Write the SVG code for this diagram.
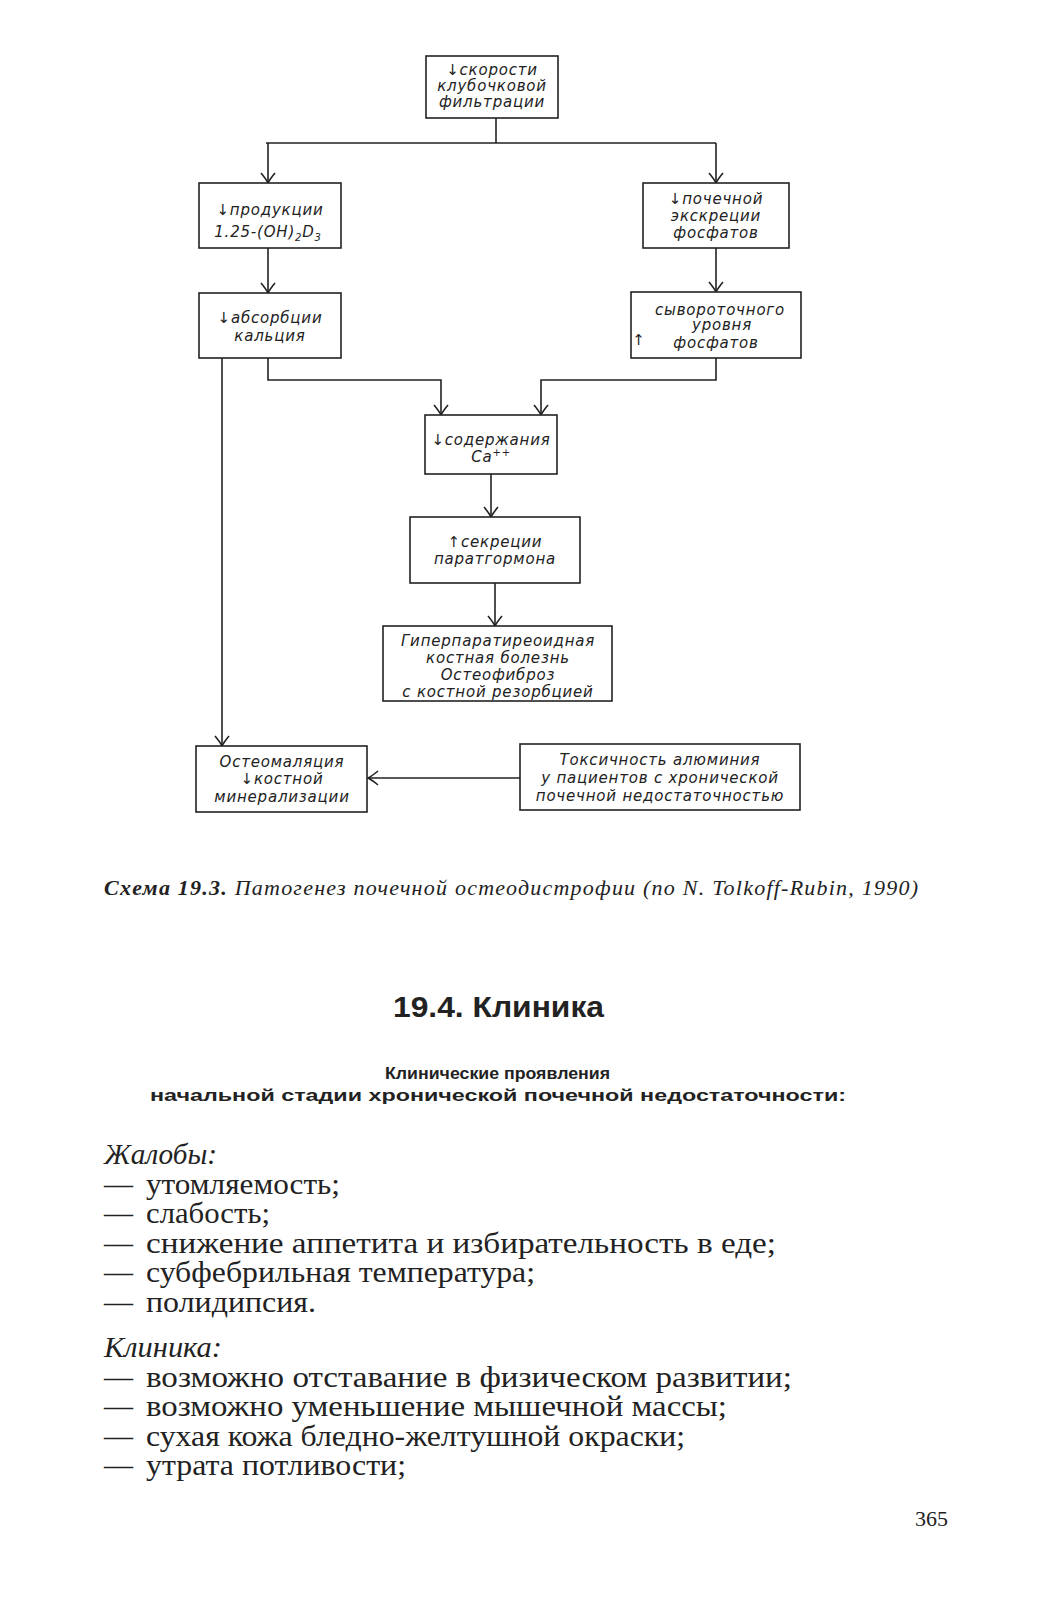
<svg xmlns="http://www.w3.org/2000/svg" width="1044" height="1600" viewBox="0 0 1044 1600">
<defs>
<marker id="ah" markerUnits="userSpaceOnUse" markerWidth="20" markerHeight="20" viewBox="-12 -10 14 20" refX="0" refY="0" orient="auto">
<path d="M-10,-7 Q-4,-2 0,0 Q-4,2 -10,7" fill="none" stroke="#222" stroke-width="1.6"/>
</marker>
<style>
.box{fill:#fff;stroke:#222;stroke-width:1.6}
.ln{fill:none;stroke:#222;stroke-width:1.6}
.t{font-family:"DejaVu Sans","Liberation Sans",sans-serif;font-style:italic;font-size:15px;letter-spacing:0.8px;fill:#222;text-anchor:middle}
.body{font-family:"Liberation Serif","Times New Roman",serif;font-size:29px;fill:#222}
.it{font-style:italic}
</style>
</defs>
<rect width="1044" height="1600" fill="#fff"/>
<g id="connectors">
<path class="ln" d="M496,118 V143"/>
<path class="ln" d="M266,143 H716"/>
<path class="ln" d="M268,143 V183" marker-end="url(#ah)"/>
<path class="ln" d="M716,143 V183" marker-end="url(#ah)"/>
<path class="ln" d="M268,248 V293" marker-end="url(#ah)"/>
<path class="ln" d="M716,248 V292" marker-end="url(#ah)"/>
<path class="ln" d="M268,358 V380 H441 V415" marker-end="url(#ah)"/>
<path class="ln" d="M716,358 V380 H541 V415" marker-end="url(#ah)"/>
<path class="ln" d="M491,474 V517" marker-end="url(#ah)"/>
<path class="ln" d="M495,583 V626" marker-end="url(#ah)"/>
<path class="ln" d="M222,358 V746" marker-end="url(#ah)"/>
<path class="ln" d="M520,778 H368" marker-end="url(#ah)"/>
</g>
<g id="n1"><rect class="box" x="426" y="56" width="132" height="62"/>
<text class="t" x="492" y="75">↓скорости</text><text class="t" x="492" y="91">клубочковой</text><text class="t" x="492" y="107">фильтрации</text></g>
<g id="n2"><rect class="box" x="199" y="183" width="142" height="65"/>
<text class="t" x="270" y="215">↓продукции</text><text class="t" x="268" y="237">1.25-(OH)<tspan font-size="10" dy="4">2</tspan><tspan dy="-4">D</tspan><tspan font-size="10" dy="4">3</tspan></text></g>
<g id="n3"><rect class="box" x="643" y="183" width="146" height="65"/>
<text class="t" x="716" y="204">↓почечной</text><text class="t" x="716" y="221">экскреции</text><text class="t" x="716" y="238">фосфатов</text></g>
<g id="n4"><rect class="box" x="199" y="293" width="142" height="65"/>
<text class="t" x="270" y="323">↓абсорбции</text><text class="t" x="270" y="341">кальция</text></g>
<g id="n5"><rect class="box" x="631" y="292" width="170" height="66"/>
<text class="t" x="720" y="315">сывороточного</text><text class="t" x="722" y="330">уровня</text><text class="t" x="716" y="348">фосфатов</text><text class="t" x="639" y="345">↑</text></g>
<g id="n6"><rect class="box" x="425" y="415" width="132" height="59"/>
<text class="t" x="491" y="445">↓содержания</text><text class="t" x="491" y="462">Ca<tspan font-size="10" dy="-6">++</tspan></text></g>
<g id="n7"><rect class="box" x="410" y="517" width="170" height="66"/>
<text class="t" x="495" y="547">↑секреции</text><text class="t" x="495" y="564">паратгормона</text></g>
<g id="n8"><rect class="box" x="383" y="626" width="229" height="75"/>
<text class="t" x="498" y="646">Гиперпаратиреоидная</text><text class="t" x="498" y="663">костная болезнь</text><text class="t" x="498" y="680">Остеофиброз</text><text class="t" x="498" y="697">с костной резорбцией</text></g>
<g id="n9"><rect class="box" x="196" y="746" width="171" height="66"/>
<text class="t" x="282" y="767">Остеомаляция</text><text class="t" x="282" y="784">↓костной</text><text class="t" x="282" y="802">минерализации</text></g>
<g id="n10"><rect class="box" x="520" y="744" width="280" height="66"/>
<text class="t" x="660" y="765">Токсичность алюминия</text><text class="t" x="660" y="783">у пациентов с хронической</text><text class="t" x="660" y="801">почечной недостаточностью</text></g>
<text x="104" y="895" font-family="Liberation Serif,serif" font-style="italic" font-size="22" fill="#222" textLength="814" lengthAdjust="spacing"><tspan font-weight="bold">Схема 19.3.</tspan> Патогенез почечной остеодистрофии (по N. Tolkoff-Rubin, 1990)</text>
<text x="393" y="1017" font-family="Liberation Sans,Arial,sans-serif" font-weight="bold" font-size="30" fill="#222" textLength="211" lengthAdjust="spacingAndGlyphs">19.4. Клиника</text>
<text x="385" y="1079" font-family="Liberation Sans,Arial,sans-serif" font-weight="bold" font-size="17" fill="#222" textLength="225" lengthAdjust="spacingAndGlyphs">Клинические проявления</text>
<text x="150" y="1101" font-family="Liberation Sans,Arial,sans-serif" font-weight="bold" font-size="17" fill="#222" textLength="696" lengthAdjust="spacingAndGlyphs">начальной стадии хронической почечной недостаточности:</text>
<g id="list">
<text class="body it" x="104" y="1164" textLength="113" lengthAdjust="spacingAndGlyphs">Жалобы:</text>
<text class="body" x="104" y="1194">—</text><text class="body" x="146" y="1194" textLength="194" lengthAdjust="spacingAndGlyphs">утомляемость;</text>
<text class="body" x="104" y="1223">—</text><text class="body" x="146" y="1223" textLength="124" lengthAdjust="spacingAndGlyphs">слабость;</text>
<text class="body" x="104" y="1253">—</text><text class="body" x="146" y="1253" textLength="630" lengthAdjust="spacingAndGlyphs">снижение аппетита и избирательность в еде;</text>
<text class="body" x="104" y="1282">—</text><text class="body" x="146" y="1282" textLength="389" lengthAdjust="spacingAndGlyphs">субфебрильная температура;</text>
<text class="body" x="104" y="1312">—</text><text class="body" x="146" y="1312" textLength="170" lengthAdjust="spacingAndGlyphs">полидипсия.</text>
<text class="body it" x="104" y="1357" textLength="118" lengthAdjust="spacingAndGlyphs">Клиника:</text>
<text class="body" x="104" y="1387">—</text><text class="body" x="146" y="1387" textLength="646" lengthAdjust="spacingAndGlyphs">возможно отставание в физическом развитии;</text>
<text class="body" x="104" y="1416">—</text><text class="body" x="146" y="1416" textLength="581" lengthAdjust="spacingAndGlyphs">возможно уменьшение мышечной массы;</text>
<text class="body" x="104" y="1446">—</text><text class="body" x="146" y="1446" textLength="539" lengthAdjust="spacingAndGlyphs">сухая кожа бледно-желтушной окраски;</text>
<text class="body" x="104" y="1475">—</text><text class="body" x="146" y="1475" textLength="260" lengthAdjust="spacingAndGlyphs">утрата потливости;</text>
</g>
<text x="948" y="1526" font-family="Liberation Serif,serif" font-size="22" fill="#222" text-anchor="end">365</text>
</svg>
